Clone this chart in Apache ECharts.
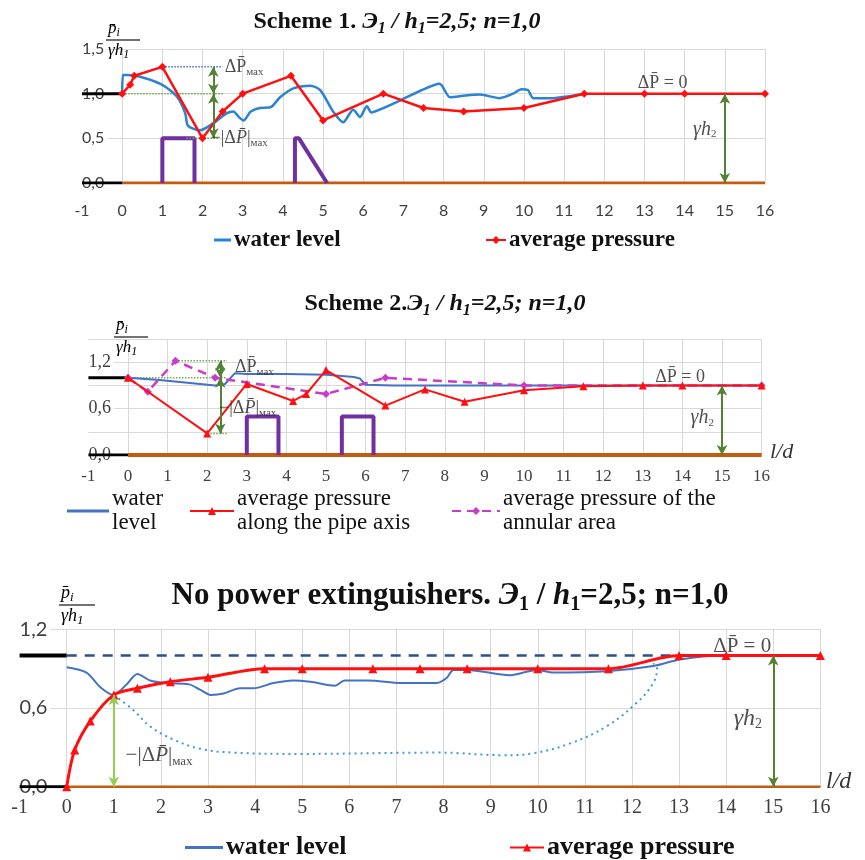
<!DOCTYPE html>
<html><head><meta charset="utf-8">
<script src="https://cdn.jsdelivr.net/npm/echarts@6/dist/echarts.min.js"></script>
<style>html,body{margin:0;padding:0;background:#fff}#c{width:865px;height:860px}</style>
</head><body><div id="c"></div>
<script>
// ---------- DATA ----------
// x ticks: -1..16 step 1 (l/d)
const xMin = -1, xMax = 16, xStep = 1;
// Panel 1 (Scheme 1)
const y1Ticks = [0, 0.5, 1.0, 1.5];
const s1WaterLevel = [[0,1.0],[0.02,1.21],[0.12,1.21],[0.45,1.19],[0.95,1.11],[1.27,1.01],[1.42,0.93],[1.57,0.78],[1.64,0.64],[1.94,0.59],[2.27,0.67],[2.6,0.78],[2.77,0.80],[2.9,0.74],[3.02,0.70],[3.2,0.80],[3.43,0.84],[3.7,0.85],[3.93,0.96],[4.26,1.06],[4.68,1.09],[4.93,1.04],[5.25,0.80],[5.5,0.68],[5.75,0.82],[5.92,0.74],[6.09,0.86],[6.2,0.79],[6.4,0.82],[6.9,0.92],[7.41,1.03],[7.9,1.11],[8.16,0.96],[8.55,0.98],[8.9,0.99],[9.4,0.95],[9.73,1.0],[9.94,1.05],[10.1,1.04],[10.23,0.95],[10.65,0.95],[11.5,1.0]];
const s1AvgPressure = [[0,1.0],[0.2,1.1],[0.3,1.2],[1,1.3],[2,0.5],[2.5,0.8],[3,1.0],[4.2,1.2],[5,0.7],[6.5,1.0],[7.5,0.84],[8.5,0.8],[10,0.84],[11.5,1.0],[13,1.0],[14,1.0],[16,1.0]];
const s1Obstacle1 = [[1,0],[1,0.5],[1.8,0.5],[1.8,0]];
const s1Obstacle2 = [[4.3,0],[4.3,0.5],[4.4,0.5],[5.1,0]];
const s1DpMax = 1.3, s1DpMin = 0.5, s1Level = 1.0, s1ArrowX = 2.27;
// Panel 2 (Scheme 2)
const y2Ticks = [0, 0.6, 1.2];
const s2WaterLevel = [[0,1.0],[0.8,0.97],[2.2,0.9],[2.45,0.92],[2.7,1.06],[3,1.05],[4,1.05],[5.02,1.04],[5.7,1.01],[5.86,0.99],[6.0,0.91],[6.7,0.9],[16,0.9]];
const s2AxisPressure = [[0,1.0],[2,0.28],[3,0.92],[4.17,0.70],[4.5,0.79],[5,1.1],[6.5,0.64],[7.5,0.85],[8.5,0.69],[10,0.84],[11.5,0.89],[13,0.9],[14,0.9],[16,0.9]];
const s2AnnularPressure = [[0,1.0],[0.5,0.82],[1.2,1.22],[2.2,1.0],[5,0.79],[6.5,1.0],[10,0.9],[16,0.9]];
const s2Obstacle1 = [[3,0],[3,0.5],[3.8,0.5],[3.8,0]];
const s2Obstacle2 = [[5.4,0],[5.4,0.5],[6.2,0.5],[6.2,0]];
const s2DpMax = 1.22, s2DpMin = 0.28, s2Level = 1.0, s2Final = 0.9, s2ArrowX = 2.33;
// Panel 3 (No power extinguishers)
const y3Ticks = [0, 0.6, 1.2];
const s3WaterLevel = [[0,0.91],[0.42,0.87],[0.71,0.76],[0.99,0.70],[1.27,0.78],[1.5,0.86],[1.77,0.81],[2.12,0.79],[2.6,0.78],[2.83,0.74],[3.06,0.70],[3.33,0.71],[3.68,0.75],[3.96,0.75],[4.39,0.79],[4.8,0.81],[5.17,0.80],[5.7,0.77],[5.9,0.81],[6.4,0.81],[7.1,0.79],[7.86,0.79],[8.07,0.83],[8.21,0.89],[8.5,0.89],[9.41,0.85],[9.98,0.89],[10.33,0.87],[11.46,0.88],[12.45,0.92],[13.02,0.97],[13.87,1.0],[16,1.0]];
const s3AvgPressure = [[0,0],[0.17,0.28],[0.5,0.5],[1,0.7],[1.5,0.75],[2.2,0.8],[3,0.835],[4.2,0.9],[5,0.9],[6.5,0.9],[7.5,0.9],[8.5,0.9],[10,0.9],[11.5,0.9],[13,1.0],[14,1.0],[16,1.0]];
const s3Envelope = [[1,0.7],[1.41,0.585],[1.77,0.46],[2.26,0.36],[2.83,0.29],[3.54,0.26],[4.95,0.25],[7.9,0.26],[9.27,0.24],[9.9,0.255],[10.69,0.33],[11.46,0.46],[12.1,0.64],[12.45,0.79],[12.53,0.9],[12.45,0.94]];
const s3Level = 1.0, s3Dip = 0.7, s3DipX = 1;
const refX = 15; // γh2 arrow position

// ---------- HELPERS ----------
const SERIF = "'Liberation Serif','Times New Roman',serif";
const SANS = "Lato,'Liberation Sans',sans-serif";
const C = {blue1:'#2b83d3', blue:'#4472c4', red:'#ff1010', purple:'#7030a0', magenta:'#c83cc8',
  orange:'#c55a11', green:'#548235', lgreen:'#92d050', navy:'#2f4f8a', dot:'#3d9bd8', grid:'#d9d9d9'};
const fmtY = v => v.toFixed(1).replace('.', ',');

function ln(g, data, color, width, extra) {
  return Object.assign({type:'line', xAxisIndex:g, yAxisIndex:g, data, symbol:'none', silent:true,
    lineStyle:{color, width}, itemStyle:{color}, animation:false, z:3}, extra || {});
}
function arrows(g, segs, color, width) {
  return {type:'line', xAxisIndex:g, yAxisIndex:g, data:[], silent:true, animation:false,
    markLine:{silent:true, animation:false, symbol:['arrow','arrow'], symbolSize:[8,10], label:{show:false},
      lineStyle:{color, width, type:'solid'},
      data: segs.map(s => [{coord:[s[0], s[1]]}, {coord:[s[0], s[2]]}])}};
}
const richBase = fs => ({
  d:{fontFamily:SERIF, fontSize:fs, color:'#222'},
  di:{fontFamily:SERIF, fontSize:fs, fontStyle:'italic', color:'#222'},
  s:{fontFamily:SERIF, fontSize:Math.round(fs*0.62), color:'#222', padding:[Math.round(fs*0.55),0,0,0]},
  g:{fontFamily:SERIF, fontSize:fs+2, fontStyle:'italic', color:'#222'}
});
function txt(g, x, y, text, fs, align) {
  return {type:'scatter', xAxisIndex:g, yAxisIndex:g, silent:true, animation:false, symbolSize:1,
    itemStyle:{color:'rgba(0,0,0,0)'}, z:5,
    data:[{value:[x,y]}],
    label:{show:true, position:'inside', align:align||'center', verticalAlign:'middle',
      formatter:text, rich:richBase(fs)}};
}
const DPMAX = '{d|ΔP̄}{s|мах}';
const DPABS = '{d|−|Δ}{di|P̄}{d||}{s|мах}';
const DP0 = '{d|ΔP̄ = 0}';
const GH2 = '{g|γh}{s|2}';

function xAxis(g, fs, family, margin) {
  return {type:'value', gridIndex:g, min:xMin, max:xMax, interval:xStep,
    axisLine:{show:false}, axisTick:{show:false},
    axisLabel:{fontFamily:family, fontSize:fs, color:'#404040', margin},
    splitLine:{show:true, showMinLine:false, lineStyle:{color:C.grid, width:1}}};
}
function yAxis(g, max, interval, ticks, fs, family) {
  return {type:'value', gridIndex:g, min:0, max, interval,
    axisLine:{show:false}, axisTick:{show:false},
    axisLabel:{inside:true, margin:0, fontFamily:family, fontSize:fs, color:'#404040',
      backgroundColor:'#fff', padding:[0,3,0,0],
      formatter: v => ticks.some(t => Math.abs(t - v) < 1e-6) ? fmtY(v) : ''},
    splitLine:{show:true, lineStyle:{color:C.grid, width:1}}};
}

// ---------- SERIES ----------
const series = [];
// Panel 1
series.push(ln(0, [[0,0],[16,0]], C.orange, 3));
series.push(ln(0, [[-1,0],[0,0]], '#000', 3));
series.push(ln(0, [[-1,s1Level],[0,s1Level]], '#000', 3));
series.push(ln(0, s1Obstacle1, C.purple, 4));
series.push(ln(0, s1Obstacle2, C.purple, 4));
series.push(ln(0, [[1,s1DpMax],[2.5,s1DpMax]], '#4472c4', 1.5, {lineStyle:{color:'#4472c4', width:1.5, type:'dotted'}}));
series.push(ln(0, [[0,s1Level],[2.5,s1Level]], '#70ad47', 1.5, {lineStyle:{color:'#70ad47', width:1.5, type:'dotted'}}));
series.push(ln(0, [[1.6,s1DpMin],[2.4,s1DpMin]], '#70ad47', 1.5, {lineStyle:{color:'#70ad47', width:1.5, type:'dotted'}}));
series.push(ln(0, s1WaterLevel, C.blue1, 2.5, {name:'wl1', smooth:0.25}));
series.push(ln(0, s1AvgPressure, C.red, 2.5, {name:'ap1', symbol:'diamond', symbolSize:8, showSymbol:true, z:4}));
series.push(arrows(0, [[s1ArrowX, s1DpMax, s1Level],[s1ArrowX, s1Level, s1DpMin],[refX, 0, s1Level]], C.green, 2));
series.push(txt(0, 2.55, 1.3, DPMAX, 18, 'left'));
series.push(txt(0, 2.2, 0.5, DPABS, 18, 'left'));
series.push(txt(0, 13.45, 1.12, DP0, 18));
series.push(txt(0, 14.5, 0.6, GH2, 18));
// Panel 2
series.push(ln(1, [[0,0],[16,0]], C.orange, 4));
series.push(ln(1, [[-1,0],[0,0]], '#000', 3));
series.push(ln(1, [[-1,s2Level],[0,s2Level]], '#000', 3));
series.push(ln(1, s2Obstacle1, C.purple, 4));
series.push(ln(1, s2Obstacle2, C.purple, 4));
series.push(ln(1, [[1.2,s2DpMax],[2.5,s2DpMax]], '#70ad47', 1.5, {lineStyle:{color:'#70ad47', width:1.5, type:'dotted'}}));
series.push(ln(1, [[0,s2Level],[2.5,s2Level]], '#70ad47', 1.5, {lineStyle:{color:'#70ad47', width:1.5, type:'dotted'}}));
series.push(ln(1, [[2,s2DpMin],[2.5,s2DpMin]], '#70ad47', 1.5, {lineStyle:{color:'#70ad47', width:1.5, type:'dotted'}}));
series.push(ln(1, s2WaterLevel, C.blue, 2, {name:'wl2'}));
series.push(ln(1, s2AnnularPressure, C.magenta, 2.5, {name:'an2', symbol:'diamond', symbolSize:8, showSymbol:true,
  lineStyle:{color:C.magenta, width:2.5, type:[9,6]}}));
series.push(ln(1, s2AxisPressure, C.red, 2, {name:'ap2', symbol:'triangle', symbolSize:8, showSymbol:true, z:4}));
series.push(arrows(1, [[s2ArrowX, s2DpMax, s2Level],[s2ArrowX, s2Level, s2DpMin],[refX, 0, s2Final]], C.green, 2));
series.push(txt(1, 2.7, 1.14, DPMAX, 18, 'left'));
series.push(txt(1, 2.3, 0.61, DPABS, 18, 'left'));
series.push(txt(1, 13.94, 1.01, DP0, 18));
series.push(txt(1, 14.5, 0.48, GH2, 18));
// Panel 3
series.push(ln(2, [[0,0],[16,0]], C.orange, 2.5));
series.push(ln(2, [[-1,0],[0,0]], '#000', 3));
series.push(ln(2, [[-1,s3Level],[0,s3Level]], '#000', 4));
series.push(ln(2, [[0,s3Level],[16,s3Level]], C.navy, 2.5, {lineStyle:{color:C.navy, width:2.5, type:[10,8]}}));
series.push(ln(2, s3Envelope, C.dot, 2, {smooth:0.4, lineStyle:{color:C.dot, width:2, type:[2,4]}}));
series.push(ln(2, s3WaterLevel, C.blue, 2, {name:'wl3', smooth:0.3}));
series.push(ln(2, s3AvgPressure, C.red, 3, {name:'ap3', symbol:'triangle', symbolSize:9, showSymbol:true, smooth:0.3, z:4}));
series.push(arrows(2, [[s3DipX, 0, s3Dip]], C.lgreen, 2));
series.push(arrows(2, [[refX, 0, s3Level]], C.green, 2));
series.push(txt(2, 1.25, 0.24, DPABS, 21, 'left'));
series.push(txt(2, 14.34, 1.07, DP0, 21));
series.push(txt(2, 14.46, 0.52, GH2, 22));

// ---------- LEGENDS ----------
const legendNames = {wl1:'water level', ap1:'average pressure', wl2:'water\nlevel',
  ap2:'average pressure\nalong the pipe axis', an2:'average pressure of the\nannular area',
  wl3:'water level', ap3:'average pressure'};
function legend(name, left, top, fs, bold, iw, plain) {
  return {data:[plain ? {name, icon:'rect'} : name], left, top, itemWidth:iw, itemHeight:plain ? 3 : 10, itemGap:0, selectedMode:false,
    formatter: n => legendNames[n],
    textStyle:{fontFamily:SERIF, fontSize:fs, fontWeight:bold?'bold':'normal', color:'#111', lineHeight:fs+1, padding:[0,0,0,-2]}};
}

// ---------- TITLES ----------
const titleRich = fs => ({
  b:{fontFamily:SERIF, fontSize:fs, fontWeight:'bold', color:'#111'},
  bi:{fontFamily:SERIF, fontSize:fs, fontWeight:'bold', fontStyle:'italic', color:'#111'},
  sub:{fontFamily:SERIF, fontSize:Math.round(fs*0.65), fontWeight:'bold', fontStyle:'italic', color:'#111', padding:[Math.round(fs*0.6),0,0,0]},
  subn:{fontFamily:SERIF, fontSize:Math.round(fs*0.65), fontWeight:'bold', color:'#111', padding:[Math.round(fs*0.6),0,0,0]}
});

const fracRich = fs => ({
  p:{fontFamily:SERIF, fontSize:fs, fontStyle:'italic', color:'#333'},
  s:{fontFamily:SERIF, fontSize:Math.round(fs*0.7), fontStyle:'italic', color:'#333', padding:[Math.round(fs*0.5),0,0,0]}
});
function frac(cx, topY, fs, w) {
  return [
    {type:'text', left:cx - w/2 + 2, top:topY, style:{text:'{p|p̄}{s|i}', rich:fracRich(fs)}, z:10},
    {type:'line', shape:{x1:cx - w/2, y1:topY + fs + 3, x2:cx + w/2, y2:topY + fs + 3}, style:{stroke:'#444', lineWidth:1.3}, z:10},
    {type:'text', left:cx - w/2 + 2, top:topY + fs + 5, style:{text:'{p|γh}{s|1}', rich:fracRich(fs)}, z:10}
  ];
}

const option = {
  backgroundColor:'#fff',
  animation:false,
  title:[
    {text:'{b|Scheme 1. }{bi|Э}{sub|1}{bi| / h}{sub|1}{bi|=2,5; n=1,0}', left:392, top:2, textAlign:'center', textStyle:{rich:titleRich(24)}},
    {text:'{b|Scheme 2.}{bi|Э}{sub|1}{bi| / h}{sub|1}{bi|=2,5; n=1,0}', left:440, top:284, textAlign:'center', textStyle:{rich:titleRich(24)}},
    {text:'{b|No power extinguishers. }{bi|Э}{subn|1}{b| / }{bi|h}{subn|1}{b|=2,5; n=1,0}', left:445, top:571, textAlign:'center', textStyle:{rich:titleRich(31)}}
  ],
  grid:[
    {left:82, top:49, width:683, height:134},
    {left:88.4, top:339.2, width:673.2, height:115.8},
    {left:19.6, top:629.3, width:800.8, height:157.4}
  ],
  xAxis:[xAxis(0, 16, SANS, 20), xAxis(1, 17, SERIF, 13), xAxis(2, 20, SERIF, 11)],
  yAxis:[yAxis(0, 1.5, 0.5, y1Ticks, 16, SANS), yAxis(1, 1.5, 0.3, y2Ticks, 18, SERIF), yAxis(2, 1.2, 0.6, y3Ticks, 20, SANS)],
  legend:[
    legend('wl1', 209, 223, 23, true, 17, true),
    legend('ap1', 480, 223, 23, true, 20),
    legend('wl2', 62, 482, 23, false, 42, true),
    legend('ap2', 184, 482, 23, false, 44),
    legend('an2', 446, 482, 23, false, 48),
    legend('wl3', 180, 829, 26, true, 38, true),
    legend('ap3', 504, 829, 26, true, 34)
  ],
  graphic:[
    ...frac(123, 20, 17, 34),
    ...frac(131, 317, 17, 34),
    ...frac(77, 584, 18, 36),
    {type:'text', left:770, top:441, style:{text:'l/d', font:"italic 22px "+SERIF, fill:'#333'}},
    {type:'text', left:826, top:770, style:{text:'l/d', font:"italic 24px "+SERIF, fill:'#333'}}
  ],
  series
};
const chart = echarts.init(document.getElementById('c'), null, {renderer:'canvas'});
chart.setOption(option);
</script></body></html>
